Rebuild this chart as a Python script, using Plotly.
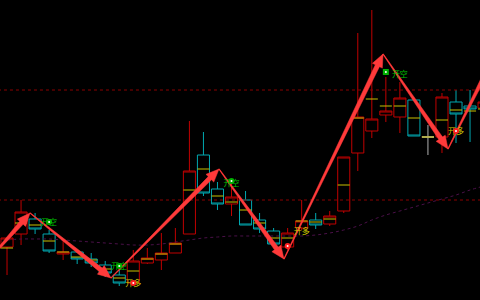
import plotly.graph_objects as go
import numpy as np

# ---------------- data ----------------
idx = list(range(35))
opens  = [53, 66, 81, 66, 46, 48, 41, 35, 25, 17, 37, 40, 47, 66, 145, 111, 96, 100, 80, 69, 53, 72, 80, 76, 89, 147, 169, 185, 183, 200, 163, 163, 198, 194, 192]
highs  = [62, 100, 87, 70, 60, 50, 47, 39, 30, 50, 52, 67, 72, 179, 168, 118, 118, 109, 87, 72, 72, 100, 87, 89, 143, 267, 290, 223, 218, 200, 175, 207, 210, 210, 205]
lows   = [25, 55, 66, 47, 40, 36, 33, 23, 14, 17, 36, 30, 47, 66, 104, 90, 84, 75, 67, 54, 50, 70, 71, 74, 87, 129, 162, 178, 167, 164, 145, 147, 157, 158, 185]
closes = [62, 88, 71, 49, 48, 41, 37, 27, 17, 39, 42, 47, 57, 129, 107, 96, 103, 75, 71, 56, 67, 79, 75, 84, 143, 183, 181, 189, 202, 164, 163, 203, 186, 191, 198]
midline = [52, 77, 75, 59, 48, 43, 40, 31, 22, 29, 41, 46, 56, 110, 131, 104, 98, 90, 77, 62, 62, 79, 78, 81, 115, 182, 201, 194, 194, 182, 163, 180, 190, 189, 191]
ma = [60, 61, 61, 61, 60, 59, 58, 57, 56, 55, 55, 56, 58, 60, 62, 63, 64, 64, 64, 64, 64, 64, 65, 67, 70, 74, 80, 85, 89, 93, 97, 101, 105, 110, 114]
ref_levels = [210, 100]

zz_x = [-1.5, 1.64, 7.41, 15.11, 19.74, 26.8, 31.43, 35.0]
zz_y = [37, 87, 22, 131, 41, 246, 151, 252]

short_txt_x = [3, 8, 16, 28]
short_txt_y = [77, 33, 116, 225]
long_txt_x = [9, 21, 32]
long_txt_y = [16, 68, 168]
short_mk_x = [3, 8, 16]
short_mk_y = [78, 34, 119]
short_sq_x = [27]
short_sq_y = [228]
long_mk_x = [9, 20, 32]
long_mk_y = [17, 54, 169]

# ---------------- figure ----------------
W, H = 480, 300
XR = [-0.5, 33.71]
YR = [0, 300]
RED = '#c00000'
CYAN = '#00a8b0'
YEL = '#c8c000'

fig = go.Figure()

for lv in ref_levels:
    fig.add_trace(go.Scatter(x=[XR[0] - 1, XR[1] + 1], y=[lv, lv], mode='lines',
                             line=dict(color='#8b0000', width=1, dash='dot'), hoverinfo='skip'))

fig.add_trace(go.Scatter(x=idx, y=ma, mode='lines', line=dict(color='#4a1048', width=1, dash='dot'),
                         line_shape='spline', hoverinfo='skip'))

normal = [i for i in idx if opens[i] != closes[i]]
doji = [i for i in idx if opens[i] == closes[i]]
fig.add_trace(go.Candlestick(
    x=normal, open=[opens[i] for i in normal], high=[highs[i] for i in normal],
    low=[lows[i] for i in normal], close=[closes[i] for i in normal],
    increasing=dict(line=dict(color=RED, width=1), fillcolor='black'),
    decreasing=dict(line=dict(color=CYAN, width=1), fillcolor='black'),
    whiskerwidth=0))
fig.add_trace(go.Candlestick(
    x=doji, open=[opens[i] for i in doji], high=[highs[i] for i in doji],
    low=[lows[i] for i in doji], close=[closes[i] for i in doji],
    increasing=dict(line=dict(color='#b0b0b0', width=1), fillcolor='black'),
    decreasing=dict(line=dict(color='#b0b0b0', width=1), fillcolor='black'),
    whiskerwidth=0))

# yellow mid lines
hx, hy = [], []
for i in idx:
    hx += [i - 0.43, i + 0.43, None]
    hy += [midline[i], midline[i], None]
fig.add_trace(go.Scatter(x=hx, y=hy, mode='lines', line=dict(color=YEL, width=1), hoverinfo='skip'))

# thin zigzag
fig.add_trace(go.Scatter(x=zz_x, y=zz_y, mode='lines', line=dict(color='#b00000', width=1), hoverinfo='skip'))

# tapered arrows
def to_px(x, y):
    return ((x - XR[0]) / (XR[1] - XR[0]) * W, (YR[1] - y) / (YR[1] - YR[0]) * H)

def to_data(px, py):
    return (px / W * (XR[1] - XR[0]) + XR[0], YR[1] - py / H * (YR[1] - YR[0]))

for j in range(len(zz_x) - 1):
    a = np.array(to_px(zz_x[j], zz_y[j]))
    b = np.array(to_px(zz_x[j + 1], zz_y[j + 1]))
    d = b - a
    L = np.hypot(*d)
    u = d / L
    n = np.array([-u[1], u[0]])
    hl, hw, w0, w1 = 13.0, 5.5, 0.6, 4.6
    base = b - u * hl
    pts = [a + n * w0 / 2, base + n * w1 / 2, base + n * hw, b, base - n * hw, base - n * w1 / 2, a - n * w0 / 2, a + n * w0 / 2]
    dx, dy = zip(*[to_data(p[0], p[1]) for p in pts])
    fig.add_trace(go.Scatter(x=list(dx), y=list(dy), mode='lines', fill='toself',
                             fillcolor='#ff3a3a', line=dict(color='#ff3a3a', width=0.5), hoverinfo='skip'))

FONT = 'Noto Sans CJK SC'
fig.add_trace(go.Scatter(x=short_txt_x, y=short_txt_y, mode='text', text=['开空'] * len(short_txt_x),
                         textfont=dict(color='#00c000', size=8, family=FONT), hoverinfo='skip'))
fig.add_trace(go.Scatter(x=long_txt_x, y=long_txt_y, mode='text', text=['开多'] * len(long_txt_x),
                         textfont=dict(color='#d0c800', size=8, family=FONT), hoverinfo='skip'))
fig.add_trace(go.Scatter(x=short_mk_x, y=short_mk_y, mode='markers',
                         marker=dict(color='#00b000', size=6, symbol='circle'), hoverinfo='skip'))
fig.add_trace(go.Scatter(x=short_sq_x, y=short_sq_y, mode='markers',
                         marker=dict(color='#00b000', size=6, symbol='square'), hoverinfo='skip'))
fig.add_trace(go.Scatter(x=long_mk_x, y=long_mk_y, mode='markers',
                         marker=dict(color='#ff2020', size=6, symbol='circle'), hoverinfo='skip'))
fig.add_trace(go.Scatter(x=short_mk_x + short_sq_x + long_mk_x, y=short_mk_y + short_sq_y + long_mk_y, mode='markers',
                         marker=dict(color='white', size=2, symbol='circle'), hoverinfo='skip'))

fig.update_layout(
    width=W, height=H, margin=dict(l=0, r=0, t=0, b=0),
    paper_bgcolor='black', plot_bgcolor='black', showlegend=False,
    boxgap=0.14, boxgroupgap=0, boxmode='overlay',
    xaxis=dict(range=XR, visible=False, rangeslider=dict(visible=False), fixedrange=True),
    yaxis=dict(range=YR, visible=False, fixedrange=True),
)
fig.write_html('out.html')
